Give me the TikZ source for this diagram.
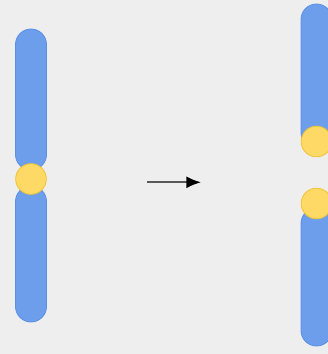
\documentclass[tikz,border=0pt]{standalone}
\usetikzlibrary{arrows.meta}

\definecolor{armblue}{HTML}{6D9EEB}
\definecolor{armedge}{HTML}{5A8FE6}
\definecolor{cenfill}{HTML}{FFD966}
\definecolor{cenedge}{HTML}{F1C232}
\definecolor{bggray}{HTML}{EEEEEE}

\tikzset{
  arm/.style={draw=armedge, fill=armblue, line width=0.6pt, rounded corners=11.6pt},
  centro/.style={circle, draw=cenedge, fill=cenfill, line width=0.6pt, inner sep=0pt, minimum size=23pt},
}

\begin{document}
\begin{tikzpicture}[x=0.75pt, y=-0.75pt]
\fill[bggray] (0,0) rectangle (328,354);
\useasboundingbox (0,0) rectangle (328,354);

% whole chromosome
\draw[arm] (15.5,29) rectangle (46.5,170);
\draw[arm] (15.5,186) rectangle (46.5,322);
\node[centro] (cen) at (31,179) {};

% broken at the centromere
\draw[arm] (301,4) rectangle (332,148);
\draw[arm] (301,208) rectangle (332,346);
\node[centro] (cenup) at (316.5,141.5) {};
\node[centro] (cendown) at (316.5,203.5) {};

\coordinate (from) at (147,182.3);
\coordinate (to) at (201,182.3);
\draw[line width=1.3pt, draw=black!65, -{Latex[length=11pt, width=9pt, black]}] (from) -- (to);

\end{tikzpicture}
\end{document}
